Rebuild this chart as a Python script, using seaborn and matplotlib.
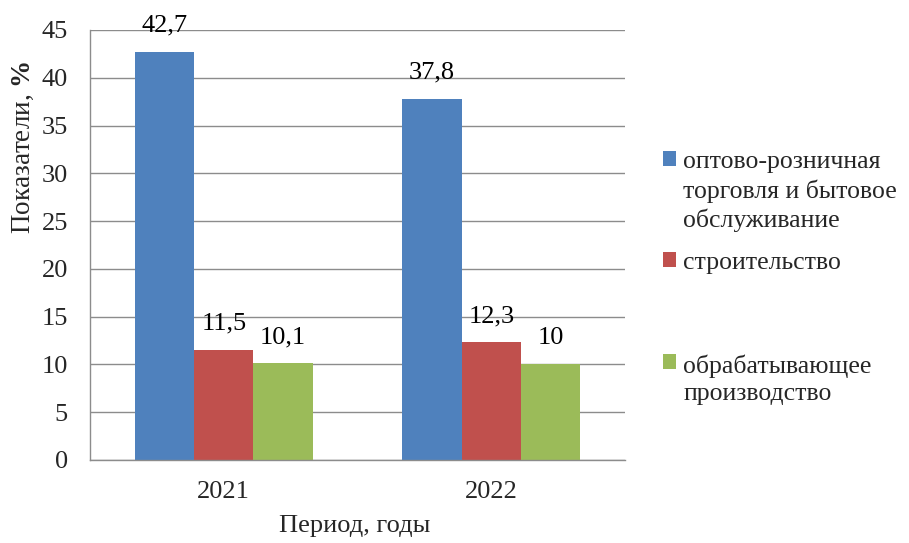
import pandas as pd
import seaborn as sns
import matplotlib.pyplot as plt
from matplotlib.patches import Patch

# data
years = ['2021', '2022']
sectors = ['оптово-розничная торговля и бытовое обслуживание',
           'строительство',
           'обрабатывающее производство']
trade = [42.7, 37.8]
build = [11.5, 12.3]
manuf = [10.1, 10.0]
value_labels = [['42,7', '37,8'], ['11,5', '12,3'], ['10,1', '10']]
legend_labels = ['оптово-розничная\nторговля и бытовое\nобслуживание',
                 'строительство\n\n',
                 'обрабатывающее\nпроизводство']
colors = ['#4F81BD', '#C0504D', '#9BBB59']

rows = []
for name, vals in zip(sectors, [trade, build, manuf]):
    for y, v in zip(years, vals):
        rows.append({'year': y, 'sector': name, 'value': v})
df = pd.DataFrame(rows)

sns.set_style("white")
plt.rcParams['font.family'] = ['Liberation Serif', 'DejaVu Serif']
plt.rcParams['mathtext.fontset'] = 'custom'
plt.rcParams['mathtext.bf'] = 'Liberation Serif:bold'
plt.rcParams['mathtext.rm'] = 'Liberation Serif'

fig = plt.figure(figsize=(9.09, 5.43), dpi=100)
ax = fig.add_axes([0.099, 0.1529, 0.5886, 0.7919])

sns.barplot(data=df, x='year', y='value', hue='sector', hue_order=sectors,
            palette=colors, width=0.665, saturation=1, legend=False,
            linewidth=0, ax=ax)

for cont, labs in zip(ax.containers, value_labels):
    ax.bar_label(cont, labels=labs, padding=11, fontsize=19, color='black')

ax.set_ylim(0, 45)
ax.set_yticks(range(0, 50, 5))
ax.set_xlim(-0.5, 1.5)
ax.yaxis.grid(True, color='#8c8c8c', linewidth=1)
ax.set_axisbelow(True)

for s in ['top', 'right']:
    ax.spines[s].set_visible(False)
for s in ['left', 'bottom']:
    ax.spines[s].set_color('#8c8c8c')
    ax.spines[s].set_linewidth(1)

ax.set_xticks([-0.5, 0.5, 1.5], minor=True)
ax.tick_params(axis='x', which='major', length=0, pad=15, labelsize=19)
ax.tick_params(axis='x', which='minor', length=6, color='#8c8c8c', direction='out')
ax.tick_params(axis='y', length=6, color='#8c8c8c', direction='out', pad=10, labelsize=19)

ax.set_xlabel('Период, годы', fontsize=19)
ax.set_ylabel(r'Показатели, $\mathbf{\%}$', fontsize=19.5)
ax.xaxis.set_label_coords(0.495, -0.128)
ax.yaxis.set_label_coords(-0.1, 0.726)

handles = [Patch(facecolor=c, edgecolor='none') for c in colors]
leg = fig.legend(handles, legend_labels, loc='upper left',
                 bbox_to_anchor=(0.729, 0.721), frameon=False, fontsize=18.5,
                 handlelength=0.5, handleheight=0.5, handletextpad=0.3,
                 borderpad=0, borderaxespad=0, labelspacing=0.8)
for t in leg.get_texts():
    t.set_linespacing(1.3)
leg.get_texts()[1].set_linespacing(1.45)
for col in leg._legend_handle_box.get_children():
    for row in col.get_children():
        row.align = 'top'

plt.savefig('out.png', dpi=100)
